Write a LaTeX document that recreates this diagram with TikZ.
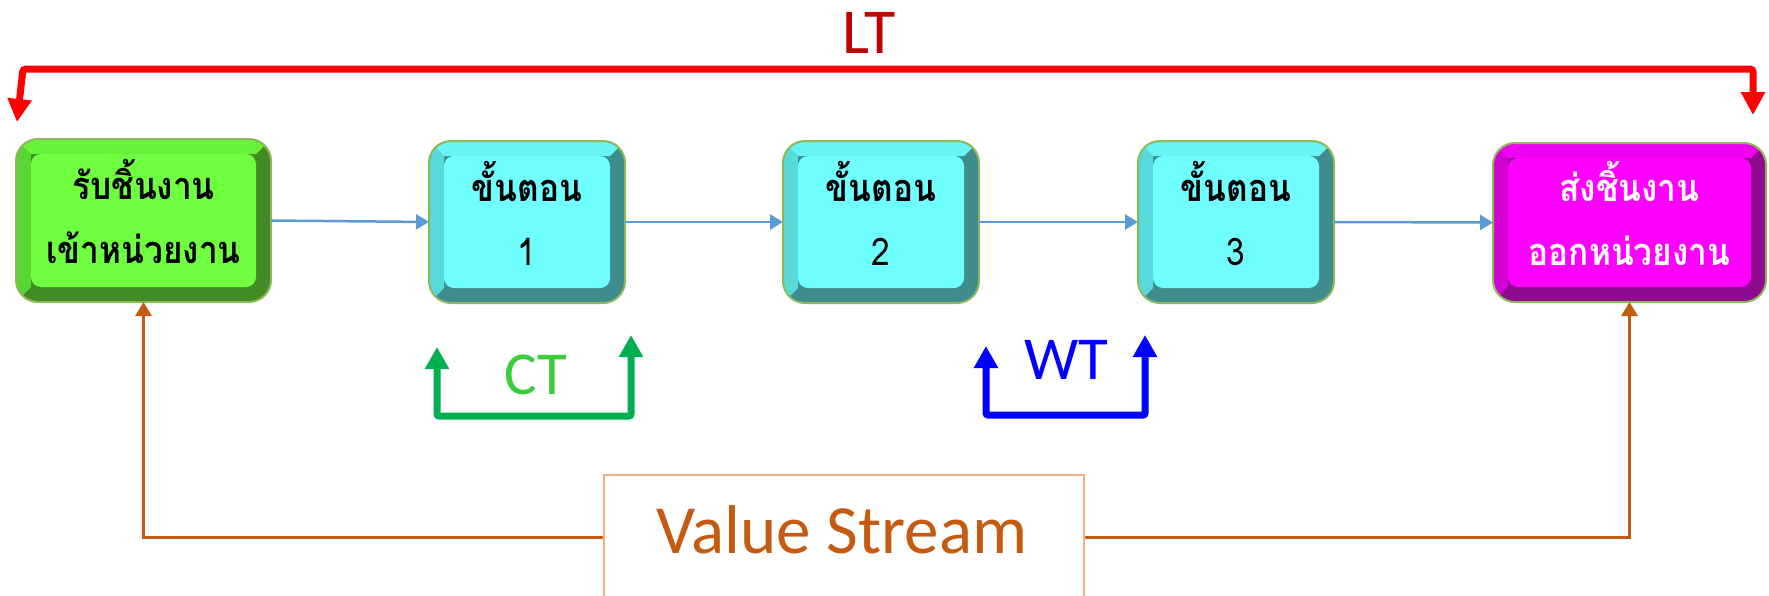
\documentclass[tikz,border=0pt]{standalone}
\usepackage{fontspec}
\usetikzlibrary{arrows.meta}
\newfontfamily\thaifont[Script=Thai, FakeStretch=0.88]{Loma}
\newfontfamily\latinfont{Carlito}

\definecolor{frameline}{HTML}{8DB85A}
\definecolor{flowblue}{HTML}{5B9BD5}
\definecolor{ltred}{HTML}{FF0000}
\definecolor{lttext}{HTML}{C00000}
\definecolor{ctline}{HTML}{00B050}
\definecolor{cttext}{HTML}{3ACC3A}
\definecolor{wtblue}{HTML}{0000FF}
\definecolor{vsline}{HTML}{C55A11}
\definecolor{vsframe}{HTML}{F4B183}
% bevel shades: top, left, right/bottom, face
\definecolor{gTop}{HTML}{68F23B}
\definecolor{gLeft}{HTML}{5AD534}
\definecolor{gDark}{HTML}{438B24}
\definecolor{gFace}{HTML}{70FF40}
\definecolor{cTop}{HTML}{68F4F4}
\definecolor{cLeft}{HTML}{58DADA}
\definecolor{cDark}{HTML}{3F8C8C}
\definecolor{cFace}{HTML}{70FFFF}
\definecolor{mTop}{HTML}{F000F0}
\definecolor{mLeft}{HTML}{D300D3}
\definecolor{mDark}{HTML}{8E0A8E}
\definecolor{mFace}{HTML}{FF00FF}

% raised key-cap look: #1..#4 = x1,y1,x2,y2; #5 top, #6 left, #7 dark, #8 face
\newcommand\bevelbox[8]{%
  \begin{scope}
    \clip[rounded corners=22pt] (#1,#2) rectangle (#3,#4);
    \fill[#7] (#1,#2) rectangle (#3,#4);
    \fill[#6] (#1,#2) -- (#1,#4) -- ++(15,-15) -- ([shift={(15,15)}]#1,#2) -- cycle;
    \fill[#5] (#1,#2) -- (#3,#2) -- ++(-15,15) -- ([shift={(15,15)}]#1,#2) -- cycle;
    \fill[#8, rounded corners=10pt] ([shift={(15,15)}]#1,#2) rectangle ([shift={(-15,-15)}]#3,#4);
  \end{scope}}

\tikzset{
  keycap/.style={draw=frameline, line width=2pt, rounded corners=22pt,
    inner sep=0pt, outer sep=0pt},
  captext/.style={align=center, inner sep=0pt,
    font=\thaifont\bfseries\fontsize{38}{64}\selectfont},
  flow/.style={draw=flowblue, line width=2.5pt, -{Triangle[length=13pt,width=15pt]}},
  ltpath/.style={draw=ltred, line width=7pt, rounded corners=3pt,
    {Triangle[length=23pt,width=23pt]}-{Triangle[length=23pt,width=23pt]}},
  span/.style={line width=7pt, rounded corners=2pt,
    {Triangle[length=22pt,width=23pt]}-{Triangle[length=22pt,width=23pt]}},
  vsarrow/.style={draw=vsline, line width=3pt, -{Triangle[length=14pt,width=16pt]}},
  tag/.style={font=\latinfont\fontsize{61}{64}\selectfont, inner sep=0pt}
}

\begin{document}
\begin{tikzpicture}[x=1pt, y=-1pt]
  \useasboundingbox (0,0) rectangle (1769,595);

  % process boxes
  \bevelbox{16}{139}{271}{302}{gTop}{gLeft}{gDark}{gFace}
  \bevelbox{429}{141}{625}{303}{cTop}{cLeft}{cDark}{cFace}
  \bevelbox{783}{141}{979}{303}{cTop}{cLeft}{cDark}{cFace}
  \bevelbox{1138}{141}{1334}{303}{cTop}{cLeft}{cDark}{cFace}
  \bevelbox{1493}{143}{1766}{302}{mTop}{mLeft}{mDark}{mFace}

  \node[keycap, minimum width=255pt, minimum height=163pt] (g) at (143.5,220.5) {};
  \node[keycap, minimum width=196pt, minimum height=162pt] (c1) at (527,222) {};
  \node[keycap, minimum width=196pt, minimum height=162pt] (c2) at (881,222) {};
  \node[keycap, minimum width=196pt, minimum height=162pt] (c3) at (1236,222) {};
  \node[keycap, minimum width=273pt, minimum height=159pt] (m) at (1629.5,222.5) {};

  % box captions
  \node[captext] (gt) at ([yshift=9pt]g.center) {รับชิ้นงาน\\เข้าหน่วยงาน};
  \node[captext] (c1t) at ([yshift=9pt]c1.center) {ขั้นตอน\\{\mdseries 1}};
  \node[captext] (c2t) at ([yshift=9pt]c2.center) {ขั้นตอน\\{\mdseries 2}};
  \node[captext] (c3t) at ([yshift=9pt]c3.center) {ขั้นตอน\\{\mdseries 3}};
  \node[captext, text=white] (mt) at ([yshift=9pt]m.center) {ส่งชิ้นงาน\\ออกหน่วยงาน};

  % material flow
  \draw[flow] (g.east) -- (c1.west);
  \draw[flow] (c1.east) -- (c2.west);
  \draw[flow] (c2.east) -- (c3.west);
  \draw[flow] (c3.east) -- (m.west);

  % lead time
  \coordinate (ltL) at (17,122);
  \coordinate (ltR) at (1753,115);
  \draw[ltpath] (ltL) -- (23,69) -- (1753,69) -- (ltR);
  \node[tag, text=lttext, font=\latinfont\fontsize{64}{66}\selectfont] (lt) at (869,33) {LT};

  % cycle time
  \coordinate (ctL) at (437,347);
  \coordinate (ctR) at (631,335);
  \draw[span, draw=ctline] (ctL) -- (437,416) -- (631,416) -- (ctR);
  \node[tag, text=cttext] (ct) at (536,375) {CT};

  % waiting time
  \coordinate (wtL) at (986,346);
  \coordinate (wtR) at (1145,335);
  \draw[span, draw=wtblue] (wtL) -- (986,415) -- (1145,415) -- (wtR);
  \node[tag, text=wtblue] (wt) at (1066,360) {WT};

  % value stream
  \node[draw=vsframe, line width=2pt, minimum width=480pt, minimum height=124pt,
        inner sep=0pt] (vs) at (844,537) {};
  \node[font=\latinfont\fontsize{69}{72}\selectfont, text=vsline, inner sep=0pt]
    (vstext) at (842,530) {Value Stream};
  \draw[vsarrow] (vs.west) -| (g.south);
  \draw[vsarrow] (vs.east) -| (m.south);
\end{tikzpicture}
\end{document}
